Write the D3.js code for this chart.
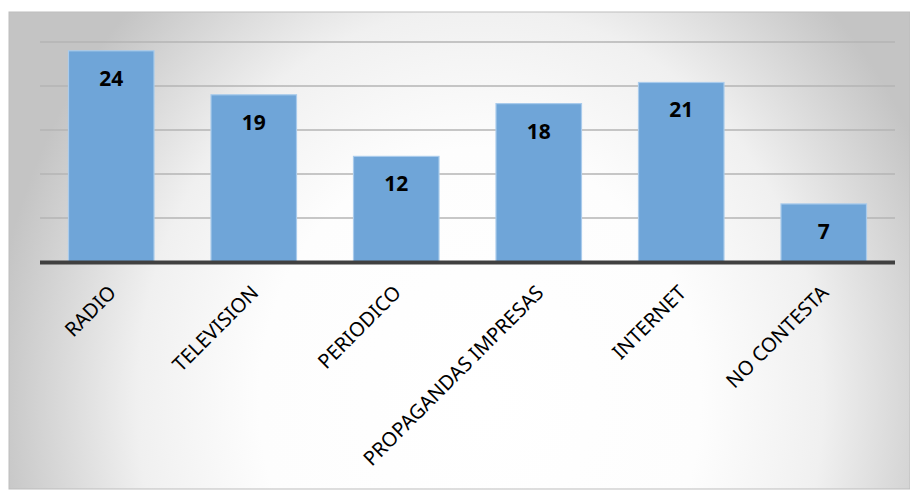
<!DOCTYPE html>
<html>
<head>
<meta charset="utf-8">
<script src="https://cdn.jsdelivr.net/npm/d3@7/dist/d3.min.js"></script>
<style>
  body { margin: 0; background: #fff; }
  svg { display: block; }
  .bar-label { font-family: 'Noto Sans', 'Open Sans', sans-serif; font-weight: bold; font-size: 21px; fill: #000; }
  .cat-label { font-family: 'Noto Sans', 'Open Sans', sans-serif; font-size: 20px; fill: #000; }
</style>
</head>
<body>
<svg id="chart" width="910" height="490"></svg>
<script>
// chart values (bar heights, printed labels as shown)
var categories = ['RADIO', 'TELEVISION', 'PERIODICO', 'PROPAGANDAS IMPRESAS', 'INTERNET', 'NO CONTESTA'];
var values = [24, 19, 12, 18, 20.4, 6.6];
var valueLabels = ['24', '19', '12', '18', '21', '7'];
var gridTicks = [5, 10, 15, 20, 25];

(function () {
var svg = d3.select('#chart');
var width = +svg.attr('width');
var height = +svg.attr('height');

var frame = {x: 9, y: 12, w: width - 9, h: height - 13};
var plot = {l: 40, r: 895, t: 42, b: 262};

// background gradient
var defs = svg.append('defs');
var grad = defs.append('radialGradient')
  .attr('id', 'bg')
  .attr('gradientUnits', 'userSpaceOnUse')
  .attr('cx', 0).attr('cy', 0).attr('r', 1)
  .attr('gradientTransform', 'translate(480,400) scale(490,560)');
grad.append('stop').attr('offset', '0%').attr('stop-color', '#ffffff');
grad.append('stop').attr('offset', '45%').attr('stop-color', '#fdfdfd');
grad.append('stop').attr('offset', '70%').attr('stop-color', '#f0f0f0');
grad.append('stop').attr('offset', '100%').attr('stop-color', '#c4c4c4');

svg.append('rect')
  .attr('x', frame.x)
  .attr('y', frame.y)
  .attr('width', frame.w)
  .attr('height', frame.h)
  .attr('fill', 'url(#bg)')
  .attr('stroke', '#bdbdbd')
  .attr('stroke-width', 1);

var x = d3.scaleBand()
  .domain(categories)
  .range([plot.l, plot.r])
  .paddingInner(0.4)
  .paddingOuter(0.2);

var y = d3.scaleLinear()
  .domain([0, 25])
  .range([plot.b, plot.t]);

// gridlines
svg.append('g')
  .selectAll('line')
  .data(gridTicks)
  .enter()
  .append('line')
  .attr('x1', plot.l)
  .attr('x2', plot.r)
  .attr('y1', function(d) { return y(d); })
  .attr('y2', function(d) { return y(d); })
  .attr('stroke', '#b4b4b4')
  .attr('stroke-width', 1.5);

// bars
svg.append('g')
  .selectAll('rect')
  .data(values)
  .enter()
  .append('rect')
  .attr('x', function(d, i) { return x(categories[i]); })
  .attr('y', function(d) { return y(d); })
  .attr('width', x.bandwidth())
  .attr('height', function(d) { return y(0) - y(d); })
  .attr('fill', '#6fa5d8')
  .attr('stroke', '#a9cbec')
  .attr('stroke-width', 1.2);

// value labels
svg.append('g')
  .selectAll('text')
  .data(values)
  .enter()
  .append('text')
  .attr('class', 'bar-label')
  .attr('x', function(d, i) { return x(categories[i]) + x.bandwidth() / 2; })
  .attr('y', function(d) { return y(d) + 35; })
  .style('text-anchor', 'middle')
  .text(function(d, i) { return valueLabels[i]; });

// baseline
svg.append('line')
  .attr('x1', plot.l)
  .attr('x2', plot.r)
  .attr('y1', y(0) + 0.5)
  .attr('y2', y(0) + 0.5)
  .attr('stroke', '#404040')
  .attr('stroke-width', 4);

// category labels, rotated
svg.append('g')
  .selectAll('text')
  .data(categories)
  .enter()
  .append('text')
  .attr('class', 'cat-label')
  .attr('transform', function(d) {
    var cx = x(d) + x.bandwidth() / 2 + 6;
    return 'translate(' + cx + ',' + (y(0) + 32) + ') rotate(-45)';
  })
  .style('text-anchor', 'end')
  .text(function(d) { return d; });
})();
</script>
</body>
</html>
